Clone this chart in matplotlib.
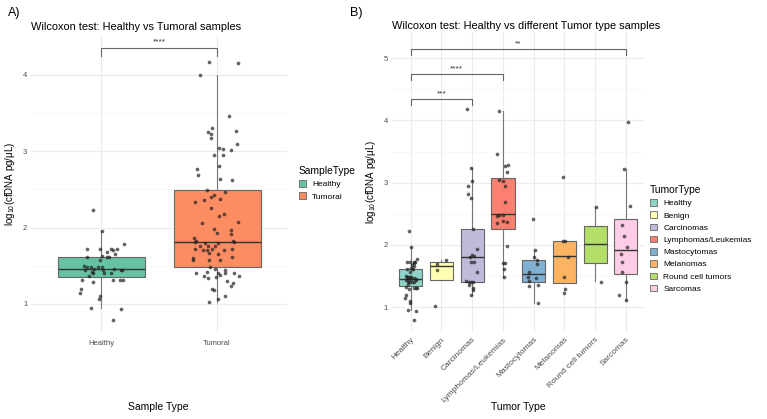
import matplotlib
matplotlib.use("Agg")
import matplotlib.pyplot as plt
from matplotlib.patches import Patch

plt.rcParams["font.family"] = ["Liberation Sans", "DejaVu Sans"]
plt.rcParams["mathtext.fontset"] = "custom"
plt.rcParams["mathtext.rm"] = "Liberation Sans"

# ---- data: panel A (Healthy vs Tumoral) ----
sample_types = ["Healthy", "Tumoral"]
sample_colors = ["#66C2A5", "#FC8D62"]

healthy_vals = [2.23, 1.96, 1.72, 1.72, 1.72, 1.71, 1.72, 1.78, 1.68, 1.66, 1.62, 1.63,
                1.61, 1.61, 1.57, 1.50, 1.49, 1.48, 1.44, 1.42, 1.46, 1.48, 1.48, 1.45,
                1.46, 1.45, 1.44, 1.41, 1.40, 1.41, 1.37, 1.32, 1.31, 1.31, 1.31, 1.29,
                1.19, 1.14, 1.10, 1.07, 0.95, 0.94, 0.79]
healthy_jit = [-0.07, 0.01, -0.12, -0.01, 0.09, 0.10, 0.14, 0.20, 0.05, 0.12, -0.12, 0.01,
               0.05, 0.07, -0.01, -0.15, -0.12, -0.09, -0.14, -0.08, -0.06, -0.03, 0.01, 0.02,
               0.11, 0.17, 0.18, -0.07, 0.03, 0.09, -0.10, -0.16, 0.10, 0.16, 0.19, -0.07,
               -0.17, -0.18, -0.01, -0.02, -0.09, 0.17, 0.10]

tumoral_vals = [4.17, 4.15, 3.99, 3.46, 3.30, 3.25, 3.22, 3.17, 3.26, 3.09, 3.04, 3.03,
                3.02, 2.95, 2.95, 2.81, 2.77, 2.69, 2.64, 2.62, 2.49, 2.47, 2.42, 2.40,
                2.36, 2.38, 2.33, 2.26, 2.18, 2.15, 2.06, 2.07, 1.98, 1.93, 1.97, 1.92,
                1.86, 1.83, 1.81, 1.82, 1.80, 1.80, 1.81, 1.76, 1.76, 1.76, 1.72, 1.70,
                1.72, 1.71, 1.72, 1.71, 1.67, 1.66, 1.60, 1.57, 1.57, 1.58, 1.61, 1.49,
                1.45, 1.46, 1.42, 1.41, 1.41, 1.41, 1.41, 1.38, 1.37, 1.36, 1.34, 1.35,
                1.30, 1.28, 1.24, 1.20, 1.18, 1.10, 1.07, 1.03]
tumoral_jit = [-0.07, 0.18, -0.15, 0.10, -0.04, -0.08, -0.05, -0.05, 0.16, 0.17, 0.02, 0.05,
               0.12, -0.03, 0.05, 0.02, -0.17, -0.16, 0.03, 0.13, -0.09, 0.07, -0.03, -0.05,
               -0.11, 0.03, -0.19, -0.05, 0.06, 0.02, -0.13, 0.18, -0.03, 0.00, 0.12, 0.12,
               -0.20, 0.14, -0.19, -0.18, -0.10, 0.01, 0.15, -0.15, -0.08, -0.02, -0.19, -0.12,
               -0.04, 0.06, 0.13, -0.09, -0.07, 0.01, -0.21, -0.21, -0.07, 0.03, 0.13, -0.06,
               0.07, -0.02, -0.09, -0.18, 0.01, 0.07, 0.15, 0.03, 0.19, -0.11, -0.08, -0.01,
               0.09, 0.14, 0.12, -0.04, -0.03, 0.07, 0.01, -0.07]

# box stats: (whisker low, q1, median, q3, whisker high)
box_a = [(0.95, 1.35, 1.46, 1.62, 1.96),
         (1.03, 1.49, 1.81, 2.49, 4.00)]

# ---- data: panel B (tumor types) ----
tumor_types = ["Healthy", "Benign", "Carcinomas", "Lymphomas/Leukemias", "Mastocytomas",
               "Melanomas", "Round cell tumors", "Sarcomas"]
tumor_colors = ["#8DD3C7", "#FFFFB3", "#BEBADA", "#FB8072", "#80B1D3", "#FDB462",
                "#B3DE69", "#FCCDE5"]

benign_vals = [1.70, 1.75, 1.60, 1.02]
benign_jit = [-0.14, 0.15, -0.15, -0.22]
carc_vals = [4.18, 3.24, 3.02, 2.94, 2.82, 2.76, 2.26, 1.94, 1.84, 1.81, 1.82, 1.72,
             1.72, 1.56, 1.42, 1.40, 1.40, 1.40, 1.36, 1.31, 1.27, 1.19]
carc_jit = [-0.17, -0.04, -0.01, -0.13, -0.15, -0.03, 0.02, 0.16, -0.02, -0.07, 0.07, -0.04,
            0.05, 0.14, -0.21, -0.11, -0.03, 0.03, -0.10, 0.01, 0.03, -0.04]
lymph_vals = [4.15, 3.46, 3.26, 3.29, 3.17, 3.04, 3.02, 2.94, 2.69, 2.47, 2.48, 2.48,
              2.35, 2.38, 2.36, 1.98, 1.71, 1.71, 1.61, 1.49]
lymph_jit = [-0.13, -0.21, 0.08, 0.16, 0.13, -0.13, 0.00, 0.06, 0.08, -0.21, -0.13, 0.01,
             -0.21, 0.00, 0.13, 0.13, 0.00, 0.05, 0.03, 0.03]
masto_vals = [2.41, 1.92, 1.80, 1.75, 1.69, 1.57, 1.48, 1.46, 1.42, 1.36, 1.34, 1.07]
masto_jit = [-0.03, 0.03, 0.00, 0.11, 0.12, -0.16, -0.20, 0.07, -0.14, 0.15, -0.14, 0.14]
melan_vals = [3.09, 2.06, 2.06, 1.81, 1.49, 1.29, 1.23]
melan_jit = [-0.05, -0.05, 0.01, 0.11, 0.00, 0.02, -0.02]
round_vals = [2.61, 1.41]
round_jit = [0.01, 0.20]
sarc_vals = [3.98, 3.22, 2.63, 2.32, 2.14, 1.97, 1.85, 1.72, 1.57, 1.40, 1.20, 1.11]
sarc_jit = [0.08, -0.05, 0.13, -0.13, -0.07, 0.05, -0.16, -0.12, -0.14, 0.00, -0.21, 0.01]

box_b = [(0.95, 1.34, 1.45, 1.61, 1.96),
         (1.44, 1.44, 1.66, 1.72, 1.75),
         (1.19, 1.41, 1.81, 2.26, 3.24),
         (1.49, 2.26, 2.49, 3.07, 4.15),
         (1.07, 1.41, 1.53, 1.76, 1.92),
         (1.39, 1.39, 1.82, 2.06, 2.06),
         (1.42, 1.71, 2.02, 2.31, 2.61),
         (1.11, 1.53, 1.91, 2.41, 3.22)]

# significance brackets: (group i, group j, bar height, label)
sig_a = [(1, 2, 4.35, "****")]
sig_b = [(1, 3, 4.34, "***"), (1, 4, 4.74, "****"), (1, 8, 5.14, "**")]

GRID = "#EBEBEB"
TICK = "#4D4D4D"


def style_axes(ax):
    for s in ax.spines.values():
        s.set_visible(False)
    ax.tick_params(length=0, labelsize=5.5, labelcolor=TICK, pad=3)
    ax.grid(True, which="major", color=GRID, linewidth=0.8)
    ax.grid(True, which="minor", axis="y", color="#F4F4F4", linewidth=0.5)
    ax.set_axisbelow(True)


def draw_boxes(ax, stats, colors):
    bx = [dict(whislo=s[0], q1=s[1], med=s[2], q3=s[3], whishi=s[4]) for s in stats]
    pos = list(range(1, len(stats) + 1))
    art = ax.bxp(bx, positions=pos, widths=0.75, patch_artist=True, showfliers=False,
                 showcaps=False,
                 boxprops=dict(edgecolor="#666666", linewidth=0.8),
                 whiskerprops=dict(color="#777777", linewidth=0.8),
                 medianprops=dict(color="#333333", linewidth=1.0))
    for patch, c in zip(art["boxes"], colors):
        patch.set_facecolor(c)


def draw_points(ax, pos, vals, jit):
    xs = [pos + j for j in jit]
    ax.scatter(xs, vals, s=7, color="#222222", alpha=0.7, linewidths=0, zorder=4)


def draw_sig(ax, sigs, tip):
    for i, j, h, lab in sigs:
        ax.plot([i, i, j, j], [h - tip, h, h, h - tip], color="#666666", lw=0.8, zorder=5)
        ax.text((i + j) / 2, h + tip * 0.3, lab, ha="center", va="bottom", fontsize=6,
                color="#333333")


def add_legend(handles, labels, title, x, y):
    fig.legend(handles, labels, title=title, loc="upper left",
               bbox_to_anchor=(x / 767, 1 - y / 419), frameon=False, fontsize=6,
               title_fontsize=7.4, handlelength=0.8, handleheight=0.8, labelspacing=0.5,
               handletextpad=0.8, alignment="left", borderaxespad=0, borderpad=0)


fig = plt.figure(figsize=(7.67, 4.19), dpi=100)

# ---- panel A ----
axa = fig.add_axes([31.4 / 767, 1 - 333 / 419, 255.2 / 767, 298 / 419])
style_axes(axa)
draw_boxes(axa, box_a, sample_colors)
draw_points(axa, 1, healthy_vals, healthy_jit)
draw_points(axa, 2, tumoral_vals, tumoral_jit)
draw_sig(axa, sig_a, 0.11)
axa.set_xlim(0.4, 2.6)
axa.set_ylim(0.62, 4.52)
axa.set_yticks([1, 2, 3, 4])
axa.set_yticks([1.5, 2.5, 3.5], minor=True)
axa.tick_params(which="minor", length=0)
axa.set_xticks([1, 2])
axa.set_xticklabels(sample_types)
axa.tick_params(axis="x", pad=5)
axa.set_title("Wilcoxon test: Healthy vs Tumoral samples", loc="left", fontsize=7.9, pad=3.5)
axa.set_ylabel("log$_{10}$(cfDNA pg/μL)", fontsize=7, labelpad=4)
fig.text(158 / 767, 1 - 407 / 419, "Sample Type", fontsize=7.5, ha="center", va="center")

add_legend([Patch(facecolor=c, edgecolor="#666666", linewidth=0.6) for c in sample_colors],
           sample_types, "SampleType", 299, 166)

# ---- panel B ----
axb = fig.add_axes([392.3 / 767, 1 - 332 / 419, 252.1 / 767, 300 / 419])
style_axes(axb)
draw_boxes(axb, box_b, tumor_colors)
groups_b = [(healthy_vals, healthy_jit), (benign_vals, benign_jit), (carc_vals, carc_jit),
            (lymph_vals, lymph_jit), (masto_vals, masto_jit), (melan_vals, melan_jit),
            (round_vals, round_jit), (sarc_vals, sarc_jit)]
for k, (v, j) in enumerate(groups_b):
    draw_points(axb, k + 1, v, j)
draw_sig(axb, sig_b, 0.09)
axb.set_xlim(0.4, 8.6)
axb.set_ylim(0.6, 5.42)
axb.set_yticks([1, 2, 3, 4, 5])
axb.set_yticks([1.5, 2.5, 3.5, 4.5], minor=True)
axb.tick_params(which="minor", length=0)
axb.set_xticks(range(1, 9))
axb.set_xticklabels(tumor_types, rotation=45, ha="right", rotation_mode="anchor",
                    fontsize=6)
axb.set_title("Wilcoxon test: Healthy vs different Tumor type samples", loc="left",
              fontsize=7.9, pad=2.5)
axb.set_ylabel("log$_{10}$(cfDNA pg/μL)", fontsize=7, labelpad=4)
fig.text(518 / 767, 1 - 407 / 419, "Tumor Type", fontsize=7.5, ha="center", va="center")

add_legend([Patch(facecolor=c, edgecolor="#666666", linewidth=0.6) for c in tumor_colors],
           tumor_types, "TumorType", 650, 185)

fig.text(8 / 767, 1 - 13 / 419, "A)", fontsize=9, va="center")
fig.text(350 / 767, 1 - 13 / 419, "B)", fontsize=9, va="center")

fig.savefig("out.png", dpi=100, facecolor="white")
